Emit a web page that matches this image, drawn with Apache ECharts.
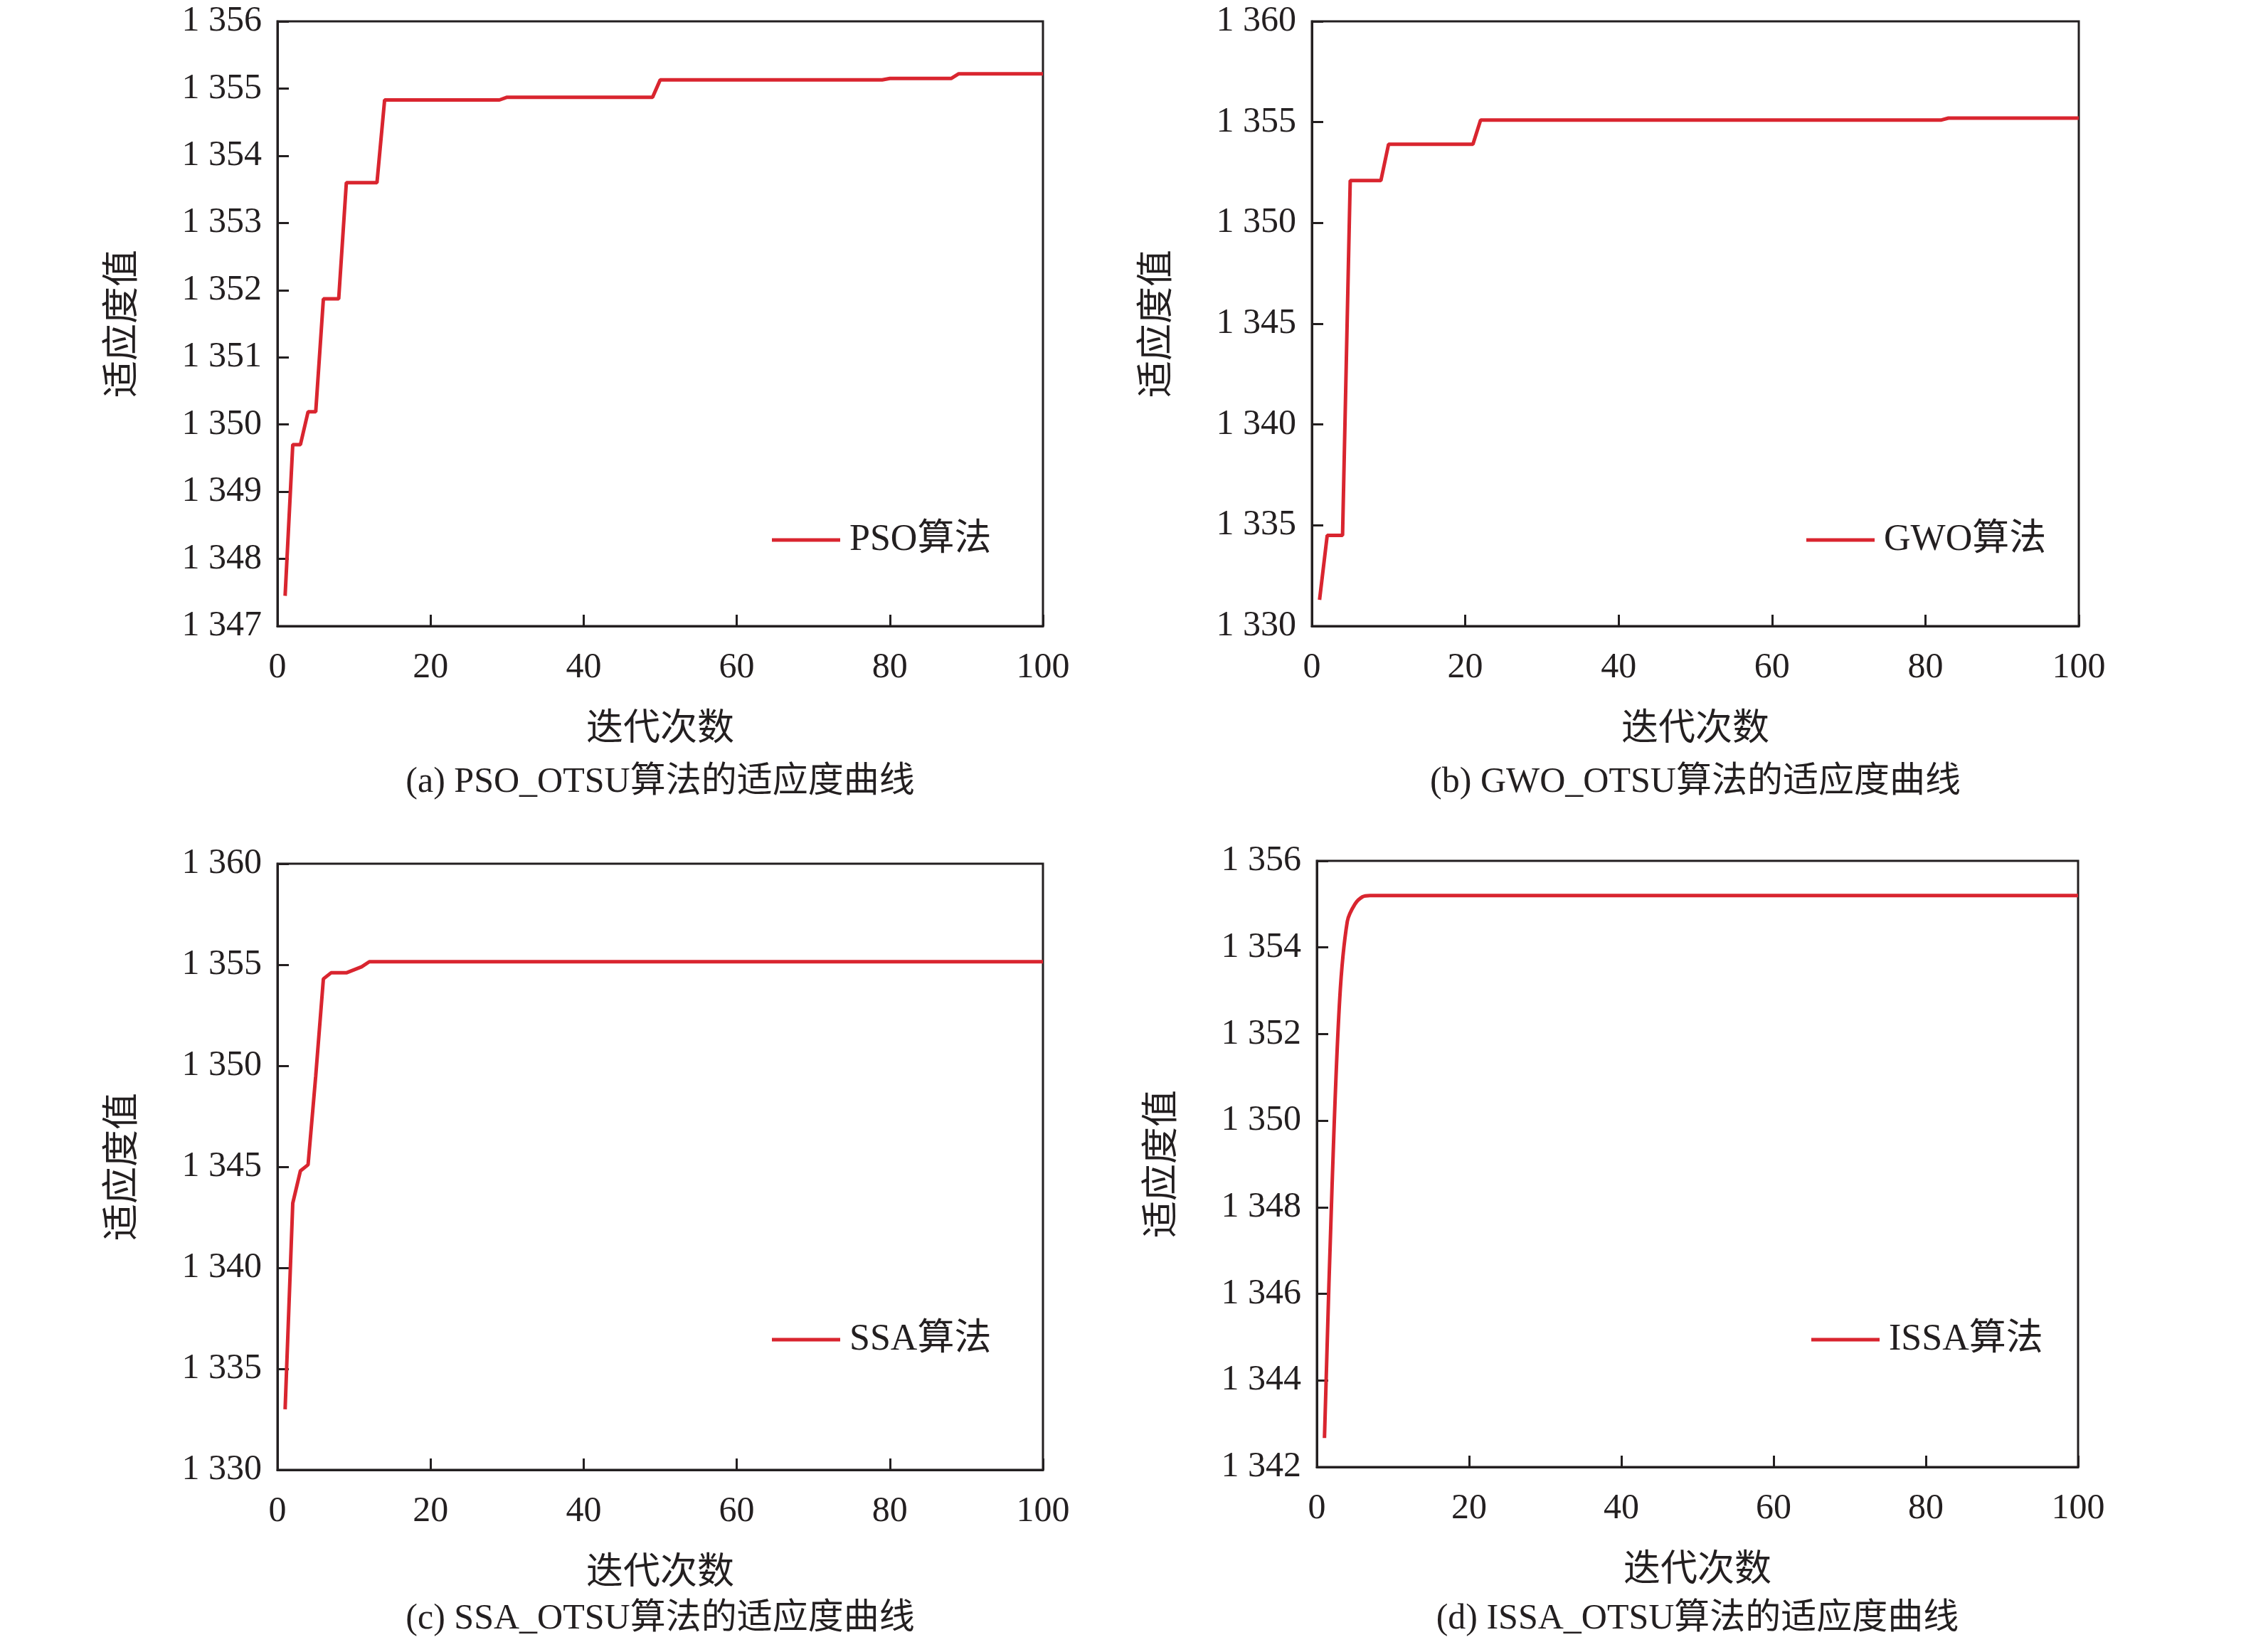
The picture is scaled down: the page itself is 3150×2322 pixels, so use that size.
<!DOCTYPE html>
<html>
<head>
<meta charset="utf-8">
<script src="https://cdn.jsdelivr.net/npm/echarts@6/dist/echarts.min.js"></script>
<style>html,body{margin:0;padding:0;background:#fff}#main{width:3150px;height:2322px}</style>
</head>
<body>
<div id="main"></div>
<script>
let dom = document.getElementById("main")
let myChart = echarts.init(dom)

// [iteration, fitness]
var psoData = [[1,1347.45],[2,1349.7],[3,1349.7],[4,1350.19],[5,1350.19],[6,1351.87],[8,1351.87],[9,1353.6],[13,1353.6],[14,1354.83],[29,1354.83],[30,1354.87],[49,1354.87],[50,1355.13],[79,1355.13],[80,1355.15],[88,1355.15],[89,1355.22],[100,1355.22]];
var gwoData = [[1,1331.3],[2,1334.5],[4,1334.5],[5,1352.1],[9,1352.1],[10,1353.9],[21,1353.9],[22,1355.1],[82,1355.1],[83,1355.2],[100,1355.2]];
var ssaData = [[1,1333],[2,1343.2],[3,1344.8],[4,1345.1],[5,1349.5],[6,1354.3],[7,1354.6],[9,1354.6],[11,1354.9],[12,1355.15],[100,1355.15]];
var issaData = [[1,1342.67],[2,1348.5],[3,1352.8],[4,1354.6],[5,1355.0],[6,1355.17],[7,1355.2],[100,1355.2]];

var seriesNames = ['PSO算法','GWO算法','SSA算法','ISSA算法'];
var captions = ['(a) PSO_OTSU算法的适应度曲线','(b) GWO_OTSU算法的适应度曲线','(c) SSA_OTSU算法的适应度曲线','(d) ISSA_OTSU算法的适应度曲线'];
var yRanges = [[1347,1356,1],[1330,1360,5],[1330,1360,5],[1342,1356,2]];
var xTicks = [0,100,20];

var font = '"Liberation Serif","Noto Sans CJK SC",serif';
var red = '#d9252f';

var grids = [
  {left:390, top:30, width:1076, height:850},
  {left:1844, top:30, width:1078, height:850},
  {left:390, top:1214, width:1076, height:852},
  {left:1851, top:1210, width:1070, height:852}
];

let fmt = function(v){
  return String(v).replace(/\B(?=(\d{3})+(?!\d))/g,' ')
}

var allData = [psoData, gwoData, ssaData, issaData];
var option = {
  animation:false,
  backgroundColor:'#fff',
  textStyle:{fontFamily:font},
  grid: grids.map(g => Object.assign({show:true, borderColor:'#231f20', borderWidth:3, backgroundColor:'transparent'}, g)),
  xAxis: grids.map((g,i) => ({
    gridIndex:i, type:'value', min:xTicks[0], max:xTicks[1], interval:xTicks[2],
    name:'迭代次数', nameLocation:'middle', nameGap:120,
    nameTextStyle:{fontSize:52, color:'#231f20', fontFamily:font},
    axisLine:{lineStyle:{color:'#231f20', width:3}},
    axisTick:{inside:true, length:16, lineStyle:{width:3, color:'#231f20'}},
    axisLabel:{fontSize:50, color:'#231f20', margin:34, fontFamily:font},
    splitLine:{show:false}
  })),
  yAxis: grids.map((g,i) => ({
    gridIndex:i, type:'value', min:yRanges[i][0], max:yRanges[i][1], interval:yRanges[i][2],
    name:'适应度值', nameLocation:'middle', nameGap:190, nameRotate:90,
    nameTextStyle:{fontSize:52, color:'#231f20', fontFamily:font},
    axisLine:{lineStyle:{color:'#231f20', width:3}},
    axisTick:{inside:true, length:16, lineStyle:{width:3, color:'#231f20'}},
    axisLabel:{fontSize:50, color:'#231f20', margin:22, formatter:fmt, fontFamily:font},
    splitLine:{show:false}
  })),
  legend: grids.map((g,i) => ({
    data:[{name:seriesNames[i], icon:'rect'}],
    left: g.left + 690, top: i < 2 ? 728 : 1852,
    itemWidth:96, itemHeight:5, itemGap:10,
    textStyle:{fontSize:52, color:'#231f20', fontFamily:font, padding:[0,0,0,8]}
  })),
  graphic: grids.map((g,i) => ({
    type:'text', x: g.left + g.width/2, y: i < 2 ? 1100 : 2276,
    style:{text:captions[i], font:'50px ' + font, fill:'#231f20', align:'center', verticalAlign:'middle'}
  })),
  series: allData.map((d,i) => ({
    name:seriesNames[i], type:'line', xAxisIndex:i, yAxisIndex:i,
    data:d, symbol:'none', smooth: i === 3 ? 0.35 : false,
    lineStyle:{color:red, width:5}, itemStyle:{color:red}
  }))
};

myChart.setOption(option, true);
</script>
</body>
</html>
